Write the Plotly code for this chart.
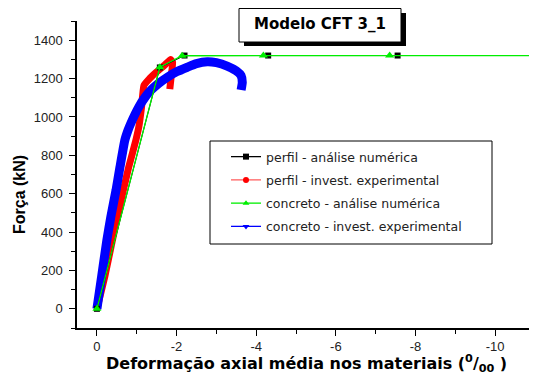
import plotly.graph_objects as go

# ---- data (strain in per mille, force in kN) ----
perfil_num_x = [0, -1.58, -2.2, -4.3, -7.55]
perfil_num_y = [0, 1258, 1320, 1320, 1320]

perfil_exp_x = [0, -0.2, -0.39, -0.6, -0.8, -0.98, -1.05, -1.12, -1.18, -1.3, -1.5, -1.7, -1.85, -1.9, -1.87, -1.83]
perfil_exp_y = [0, 170, 358, 560, 740, 880, 945, 1050, 1164, 1195, 1235, 1270, 1300, 1285, 1220, 1145]

concreto_num_x = [0, -1.58, -2.14, -4.18, -7.35, -11.0]
concreto_num_y = [0, 1259, 1319, 1320, 1320, 1320]

concreto_exp_x = [0, -0.12, -0.25, -0.35, -0.48, -0.58, -0.7, -0.78, -0.85, -1.05, -1.2, -1.35, -1.55,
                  -1.77, -2.0, -2.27, -2.5, -2.77, -3.0, -3.27, -3.5, -3.62, -3.65, -3.62]
concreto_exp_y = [0, 170, 358, 480, 618, 740, 878, 930, 966, 1051, 1100, 1138, 1175,
                  1207, 1235, 1259, 1278, 1288, 1283, 1265, 1240, 1215, 1180, 1140]

x_tickvals = [0, -2, -4, -6, -8, -10]
x_ticktext = ["0", "-2", "-4", "-6", "-8", "-10"]
y_tickvals = [0, 200, 400, 600, 800, 1000, 1200, 1400]

names = ["perfil - análise numérica", "perfil - invest. experimental",
         "concreto - análise numérica", "concreto - invest. experimental"]

FONT = "Liberation Sans, Arial, sans-serif"
WIDE = "DejaVu Sans, Verdana, sans-serif"

fig = go.Figure()

# thick experimental curves
fig.add_trace(go.Scatter(x=perfil_exp_x, y=perfil_exp_y, mode="lines",
                         line=dict(color="#ff0000", width=7, shape="spline", smoothing=0.4),
                         showlegend=False, hoverinfo="skip"))
fig.add_trace(go.Scatter(x=concreto_exp_x, y=concreto_exp_y, mode="lines",
                         line=dict(color="#0000ff", width=9, shape="spline", smoothing=0.4),
                         showlegend=False, hoverinfo="skip"))
# numerical
fig.add_trace(go.Scatter(x=perfil_num_x, y=perfil_num_y, mode="lines+markers",
                         line=dict(color="#000000", width=1),
                         marker=dict(symbol="square", size=6, color="#000000"),
                         showlegend=False))
fig.add_trace(go.Scatter(x=concreto_num_x, y=concreto_num_y, mode="lines+markers",
                         line=dict(color="#00ee00", width=1.3),
                         marker=dict(symbol="triangle-up", size=8, color="#00ee00"),
                         showlegend=False))

# legend entries
leg_styles = [("#000000", "#000000", "square"), ("#ff6060", "#ff0000", "circle"),
              ("#00ee00", "#00ee00", "triangle-up"), ("#0000ff", "#0000ff", "triangle-down")]
for i, (nm, (lc, mc, sym)) in enumerate(zip(names, leg_styles)):
    fig.add_trace(go.Scatter(x=[None], y=[None], mode="lines+markers", name=nm,
                             line=dict(color=lc, width=1.3),
                             marker=dict(symbol=sym, size=6, color=mc),
                             legendgroup=f"g{i}"))

# page body has an 8px margin: work in screen pixels and subtract it
O = 8
W, H = 537 - O, 376 - O
L, R, T, B = 77 - O, 0, 21 - O, 48
pw, ph = W - L - R, H - T - B


def px(x):
    return (x - O - L) / pw


def py(y):
    return (H - B - (y - O)) / ph


fig.update_layout(
    width=W, height=H,
    margin=dict(l=L, r=R, t=T, b=B),
    paper_bgcolor="white", plot_bgcolor="white",
    font=dict(family=FONT, size=13, color="#222222"),
    legend=dict(x=px(226), y=py(142), xanchor="left", yanchor="top",
                borderwidth=0, bgcolor="rgba(0,0,0,0)",
                font=dict(size=12.5, color="#222222", family=WIDE), tracegroupgap=4,
                itemwidth=30),
    showlegend=True,
)

fig.update_xaxes(range=[0.5, -11.05], showgrid=False, zeroline=False,
                 showline=True, linecolor="#000000", linewidth=1.5,
                 ticks="outside", ticklen=6, tickwidth=1.2, tickcolor="#000000",
                 tickvals=x_tickvals, ticktext=x_ticktext,
                 minor=dict(dtick=1, tick0=0, ticks="outside", ticklen=4, tickcolor="#000000"),
                 tickfont=dict(size=13, color="#222222"))
fig.update_yaxes(range=[-100, 1500], showgrid=False, zeroline=False,
                 showline=True, linecolor="#000000", linewidth=1.5,
                 ticks="outside", ticklen=6, tickwidth=1.2, tickcolor="#000000",
                 tickvals=y_tickvals, ticklabelstandoff=4,
                 minor=dict(dtick=100, tick0=0, ticks="outside", ticklen=4, tickcolor="#000000"),
                 tickfont=dict(size=13, color="#222222"))

# legend frame
fig.add_shape(type="rect", xref="paper", yref="paper",
              x0=px(210), x1=px(492), y0=py(244), y1=py(141),
              fillcolor="white", line=dict(color="#000000", width=1), layer="above")

# title box with shadow
fig.add_shape(type="rect", xref="paper", yref="paper",
              x0=px(244), x1=px(406), y0=py(46), y1=py(13),
              fillcolor="#000000", line=dict(width=0), layer="above")
fig.add_shape(type="rect", xref="paper", yref="paper",
              x0=px(239), x1=px(401), y0=py(42), y1=py(8.5),
              fillcolor="white", line=dict(color="#000000", width=1), layer="above")
fig.add_annotation(xref="paper", yref="paper", x=px(320), y=py(24),
                   xanchor="center", yanchor="middle",
                   text="<b>Modelo CFT 3_1</b>", showarrow=False,
                   font=dict(size=15, color="#000000", family=WIDE))

# axis titles
fig.add_annotation(xref="paper", yref="paper", x=px(306), y=py(363),
                   xanchor="center", yanchor="middle",
                   text="<b>Deformação axial média nos materiais (<sup>0</sup>/<sub>00</sub> )</b>",
                   showarrow=False, font=dict(size=16, color="#000000", family=WIDE))
fig.add_annotation(xref="paper", yref="paper", x=px(19), y=py(195),
                   xanchor="center", yanchor="middle",
                   text="<b>Força (kN)</b>", textangle=-90,
                   showarrow=False, font=dict(size=16, color="#000000", family=FONT))

fig.write_html("out.html")
